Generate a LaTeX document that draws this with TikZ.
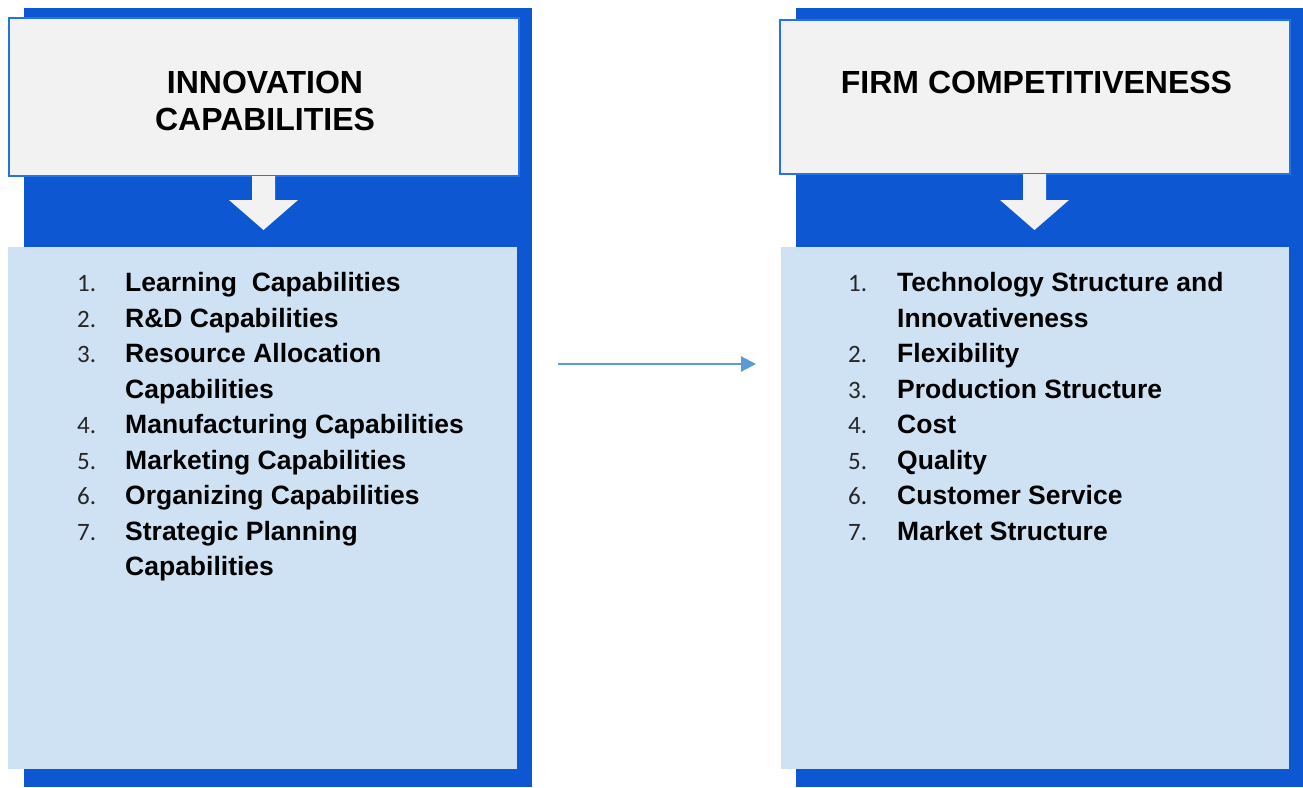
\documentclass[tikz,border=0pt]{standalone}
\usepackage{fontspec}
\setmainfont{Liberation Sans}
\newfontfamily\numfont{Carlito}
\usetikzlibrary{arrows.meta}
\definecolor{panelblue}{RGB}{13,88,210}
\definecolor{edgeblue}{RGB}{35,115,232}
\definecolor{headgray}{RGB}{242,242,242}
\definecolor{listblue}{RGB}{207,226,243}
\definecolor{linkblue}{RGB}{91,155,213}
\definecolor{numgray}{RGB}{38,38,38}
\tikzset{
  panel/.style={fill=panelblue, draw=none, minimum width=#1, inner sep=0pt},
  headbox/.style={fill=headgray, draw=edgeblue, line width=2pt, inner sep=0pt},
  listbox/.style={fill=listblue, draw=none, inner sep=0pt},
  title/.style={font=\bfseries\fontsize{32}{37}\selectfont, inner sep=0pt, anchor=base},
  num/.style={font=\numfont\fontsize{25}{30}\selectfont, text=numgray, inner sep=0pt, anchor=base west},
  item/.style={font=\bfseries\fontsize{26.5}{30}\selectfont, inner sep=0pt, anchor=base west},
  downarrow/.style={fill=headgray, draw=none},
  link/.style={draw=linkblue, line width=2.2pt, -{Triangle[length=15pt,width=15pt]}}
}
\begin{document}
\begin{tikzpicture}[x=1pt,y=-1pt]
\useasboundingbox (0,0) rectangle (1303,787);

% ---------- left column: innovation capabilities ----------
\node[panel=508pt, minimum height=779pt] (lpanel) at (278,397.5) {};
\node[headbox, minimum width=510pt, minimum height=158pt] (lhead) at (264,97) {};
\fill[downarrow] (252,176) -- (275,176) -- (275,200) -- (298,200)
  -- (263.5,230) -- (229,200) -- (252,200) -- cycle;
\node[listbox, minimum width=509pt, minimum height=522pt] (llist) at (262.5,508) {};

\node[title] (lt1) at (265,93) {INNOVATION};
\node[title] (lt2) at (265,130) {CAPABILITIES};

\node[num]  (ln1) at (77,291.7) {1.};
\node[item] (li1) at (125,291.7) {Learning\ \ Capabilities};
\node[num]  (ln2) at (77,327.2) {2.};
\node[item] (li2) at (125,327.2) {R\&D Capabilities};
\node[num]  (ln3) at (77,362.7) {3.};
\node[item] (li3) at (125,362.7) {Resource Allocation};
\node[item] (li3b) at (125,398.2) {Capabilities};
\node[num]  (ln4) at (77,433.7) {4.};
\node[item] (li4) at (125,433.7) {Manufacturing Capabilities};
\node[num]  (ln5) at (77,469.2) {5.};
\node[item] (li5) at (125,469.2) {Marketing Capabilities};
\node[num]  (ln6) at (77,504.7) {6.};
\node[item] (li6) at (125,504.7) {Organizing Capabilities};
\node[num]  (ln7) at (77,540.2) {7.};
\node[item] (li7) at (125,540.2) {Strategic Planning};
\node[item] (li7b) at (125,575.7) {Capabilities};

% ---------- right column: firm competitiveness ----------
\node[panel=507pt, minimum height=779pt] (rpanel) at (1049.5,397.5) {};
\node[headbox, minimum width=510pt, minimum height=154pt] (rhead) at (1035,97) {};
\fill[downarrow] (1023,174) -- (1046,174) -- (1046,200) -- (1069,200)
  -- (1034.5,230) -- (1000,200) -- (1023,200) -- cycle;
\node[listbox, minimum width=508pt, minimum height=522pt] (rlist) at (1035,508) {};

\node[title] (rt1) at (1036.5,93) {FIRM COMPETITIVENESS};

\node[num]  (rn1) at (848,291.7) {1.};
\node[item] (ri1) at (897,291.7) {Technology Structure and};
\node[item] (ri1b) at (897,327.2) {Innovativeness};
\node[num]  (rn2) at (848,362.7) {2.};
\node[item] (ri2) at (897,362.7) {Flexibility};
\node[num]  (rn3) at (848,398.2) {3.};
\node[item] (ri3) at (897,398.2) {Production Structure};
\node[num]  (rn4) at (848,433.7) {4.};
\node[item] (ri4) at (897,433.7) {Cost};
\node[num]  (rn5) at (848,469.2) {5.};
\node[item] (ri5) at (897,469.2) {Quality};
\node[num]  (rn6) at (848,504.7) {6.};
\node[item] (ri6) at (897,504.7) {Customer Service};
\node[num]  (rn7) at (848,540.2) {7.};
\node[item] (ri7) at (897,540.2) {Market Structure};

% ---------- link between the columns ----------
\coordinate (linkstart) at (558,364);
\coordinate (linkend) at (756,364);
\draw[link] (linkstart) -- (linkend);
\end{tikzpicture}
\end{document}
